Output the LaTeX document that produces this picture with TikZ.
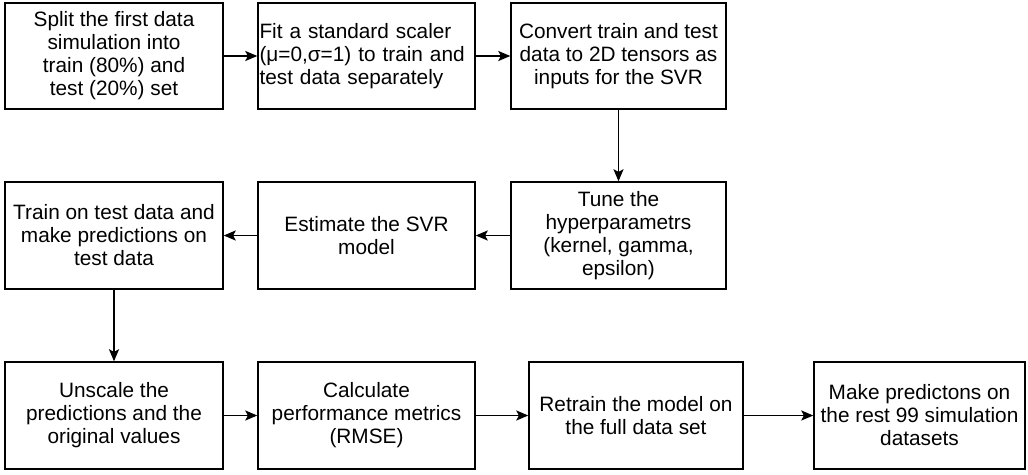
\documentclass[tikz,border=0pt]{standalone}
\usepackage{fontspec}
\setmainfont{Liberation Sans}
\usetikzlibrary{arrows.meta}
\tikzset{
  box/.style={draw=black, line width=1.4pt, fill=white, inner sep=1pt, align=center,
    font=\fontsize{20.8}{23}\selectfont, anchor=center},
  conn/.style={line width=1.5pt, -{Stealth[length=12pt,width=10pt,inset=2.5pt]}}
}
\begin{document}
\begin{tikzpicture}[x=1pt,y=-1pt]
\useasboundingbox (0,0) rectangle (1028,474);
\fill[white] (0,0) rectangle (1028,474);
\begin{scope}
\clip (0,0) rectangle (1028,474);
\node[box, minimum width=218pt, minimum height=106pt] (b1) at (114,56) {Split the first data\\simulation into\\train (80\%) and\\test (20\%) set};
\node[box, minimum width=217pt, minimum height=106pt, text width=214pt, align=left, inner xsep=0.5pt] (b2) at (366.5,56) {Fit a standard scaler\\(μ=0,σ=1) to train and\\test data separately};
\node[box, minimum width=215pt, minimum height=106pt] (b3) at (618.5,56) {Convert train and test\\data to 2D tensors as\\inputs for the SVR};
\node[box, minimum width=218pt, minimum height=107pt] (b4) at (114,235.5) {Train on test data and\\make predictions on\\test data};
\node[box, minimum width=217pt, minimum height=107pt] (b5) at (366.5,235.5) {Estimate the SVR\\model};
\node[box, minimum width=215pt, minimum height=107pt] (b6) at (618.5,235.5) {Tune the\\hyperparametrs\\(kernel, gamma,\\epsilon)};
\node[box, minimum width=218pt, minimum height=107pt] (b7) at (114,415.5) {Unscale the\\predictions and the\\original values};
\node[box, minimum width=217pt, minimum height=107pt] (b8) at (366.5,415.5) {Calculate\\performance metrics\\(RMSE)};
\node[box, minimum width=214pt, minimum height=107pt] (b9) at (636,415.5) {Retrain the model on\\the full data set};
\node[box, minimum width=211pt, minimum height=107pt] (b10) at (919.5,415.5) {Make predictons on\\the rest 99 simulation\\datasets};
\draw[conn] (b1) -- (b2);
\draw[conn] (b2) -- (b3);
\draw[conn] (b3) -- (b6);
\draw[conn] (b6) -- (b5);
\draw[conn] (b5) -- (b4);
\draw[conn] (b4) -- (b7);
\draw[conn] (b7) -- (b8);
\draw[conn] (b8) -- (b9);
\draw[conn] (b9) -- (b10);
\end{scope}
\end{tikzpicture}
\end{document}
